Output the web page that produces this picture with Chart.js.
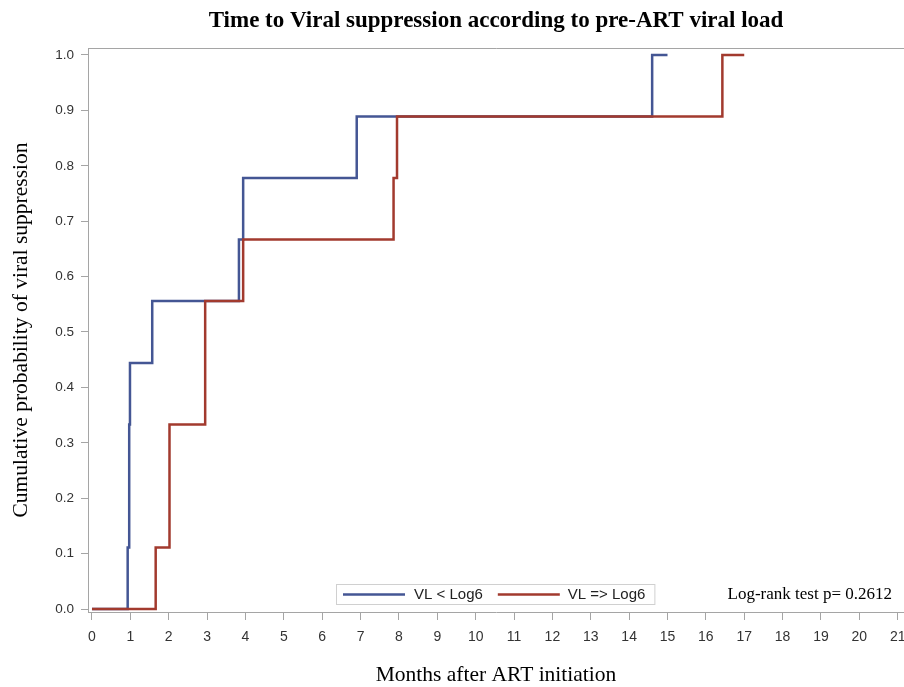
<!DOCTYPE html>
<html lang="en">
<head>
  <meta charset="UTF-8">
  <title>Time to Viral suppression</title>
  <script src="https://cdn.jsdelivr.net/npm/chart.js"></script>
  <style>
    body {
      background-color: #fff;
      margin: 0;
      padding: 0;
    }
    #wrap {
      width: 904px;
      height: 687px;
    }
  </style>
</head>
<body>
  <div id="wrap">
    <canvas id="kmChart" width="904" height="687"></canvas>
  </div>

  <script>
    // Kaplan-Meier steps (months, cumulative probability)
    const lowTimes = [0, 0.93, 0.97, 0.99, 1.57, 3.83, 3.94, 6.9, 14.6, 15.0];
    const lowProb  = [0, 0.111, 0.333, 0.444, 0.556, 0.667, 0.778, 0.889, 1.0, 1.0];
    const highTimes = [0, 1.66, 2.02, 2.95, 3.94, 7.86, 7.95, 16.43, 17.0];
    const highProb  = [0, 0.111, 0.333, 0.556, 0.667, 0.778, 0.889, 1.0, 1.0];

    const seriesLabels = ['VL < Log6', 'VL => Log6'];
    const xTicks = [0, 1, 2, 3, 4, 5, 6, 7, 8, 9, 10, 11, 12, 13, 14, 15, 16, 17, 18, 19, 20, 21];
    const yTicks = [0, 0.1, 0.2, 0.3, 0.4, 0.5, 0.6, 0.7, 0.8, 0.9, 1.0];
    const chartTitle = 'Time to Viral suppression according to pre-ART viral load';
    const logRankText = 'Log-rank test p= 0.2612';

    const blue = '#445694';
    const red = '#A23A2E';
    const axisGray = '#A5A5A5';
    const serif = '"Liberation Serif", "Times New Roman", serif';
    const sans = '"Liberation Sans", Arial, sans-serif';

    const toPoints = (xs, ys) => xs.map((x, i) => ({ x, y: ys[i] }));

    const framePlugin = {
      id: 'frame',
      afterDraw(chart) {
        const { ctx, chartArea: a } = chart;
        ctx.save();
        ctx.strokeStyle = axisGray;
        ctx.lineWidth = 1;
        ctx.beginPath();
        ctx.moveTo(a.left + 0.5, a.bottom);
        ctx.lineTo(a.left + 0.5, a.top + 0.5);
        ctx.lineTo(a.right, a.top + 0.5);
        ctx.stroke();

        // title, centred over the plot area
        ctx.font = 'bold 23px ' + serif;
        ctx.fillStyle = '#000';
        ctx.textAlign = 'center';
        ctx.textBaseline = 'middle';
        ctx.fillText(chartTitle, (a.left + a.right) / 2, 21);

        // legend box
        ctx.font = '15px ' + sans;
        ctx.textAlign = 'left';
        const lx = a.left + 248, ly = a.bottom - 28, lh = 20, seg = 62;
        const w1 = ctx.measureText(seriesLabels[0]).width;
        const w2 = ctx.measureText(seriesLabels[1]).width;
        const lw = 7 + seg + 9 + w1 + 15 + seg + 8 + w2 + 9;
        ctx.fillStyle = '#fff';
        ctx.fillRect(lx, ly, lw, lh);
        ctx.strokeStyle = '#D0D0D0';
        ctx.strokeRect(lx + 0.5, ly + 0.5, lw, lh);
        const cy = ly + lh / 2 + 0.5;
        let x = lx + 7;
        ctx.lineWidth = 2.5;
        ctx.strokeStyle = blue;
        ctx.beginPath(); ctx.moveTo(x, cy); ctx.lineTo(x + seg, cy); ctx.stroke();
        x += seg + 9;
        ctx.fillStyle = '#222';
        ctx.fillText(seriesLabels[0], x, cy);
        x += w1 + 15;
        ctx.strokeStyle = red;
        ctx.beginPath(); ctx.moveTo(x, cy); ctx.lineTo(x + seg, cy); ctx.stroke();
        x += seg + 8;
        ctx.fillText(seriesLabels[1], x, cy);

        // log-rank note
        ctx.font = '17px ' + serif;
        ctx.textAlign = 'right';
        ctx.fillStyle = '#000';
        ctx.fillText(logRankText, a.left + 804, cy);
        ctx.restore();
      }
    };

    const ctx = document.getElementById('kmChart').getContext('2d');
    new Chart(ctx, {
      type: 'scatter',
      data: {
        datasets: [
          {
            label: seriesLabels[0],
            data: toPoints(lowTimes, lowProb),
            showLine: true,
            stepped: 'before',
            borderColor: blue,
            borderWidth: 2.5,
            pointRadius: 0,
            order: 2
          },
          {
            label: seriesLabels[1],
            data: toPoints(highTimes, highProb),
            showLine: true,
            stepped: 'before',
            borderColor: red,
            borderWidth: 2.5,
            pointRadius: 0,
            order: 1
          }
        ]
      },
      options: {
        responsive: false,
        animation: false,
        layout: { padding: { left: 0, right: 0, top: 48, bottom: 0 } },
        plugins: {
          legend: { display: false },
          tooltip: { enabled: false },
          title: { display: false }
        },
        scales: {
          x: {
            type: 'linear',
            min: -0.104,
            max: 21.164,
            afterBuildTicks: s => { s.ticks = xTicks.map(v => ({ value: v })); },
            afterFit: s => { s.height = 75; s.paddingLeft = 0; s.paddingRight = 0; },
            grid: { drawOnChartArea: false, drawTicks: true, tickLength: 8, tickColor: axisGray },
            border: { display: true, color: axisGray },
            ticks: { color: '#333', font: { family: sans, size: 14 }, padding: 9, maxRotation: 0, autoSkip: false },
            title: {
              display: true,
              text: 'Months after ART initiation',
              color: '#000',
              font: { family: serif, size: 21.5, lineHeight: 1.08 },
              padding: { top: 13, bottom: 0 }
            }
          },
          y: {
            type: 'linear',
            min: -0.0054,
            max: 1.0126,
            afterBuildTicks: s => { s.ticks = yTicks.map(v => ({ value: v })); },
            afterFit: s => { s.width = 88; },
            grid: { drawOnChartArea: false, drawTicks: true, tickLength: 7, tickColor: axisGray },
            border: { display: true, color: axisGray },
            ticks: { color: '#333', font: { family: sans, size: 13.5 }, padding: 7, callback: v => v.toFixed(1) },
            title: {
              display: true,
              text: 'Cumulative probability of viral suppression',
              color: '#000',
              font: { family: serif, size: 21.5 },
              padding: { top: 8, bottom: 4 }
            }
          }
        }
      },
      plugins: [framePlugin]
    });
  </script>
</body>
</html>
